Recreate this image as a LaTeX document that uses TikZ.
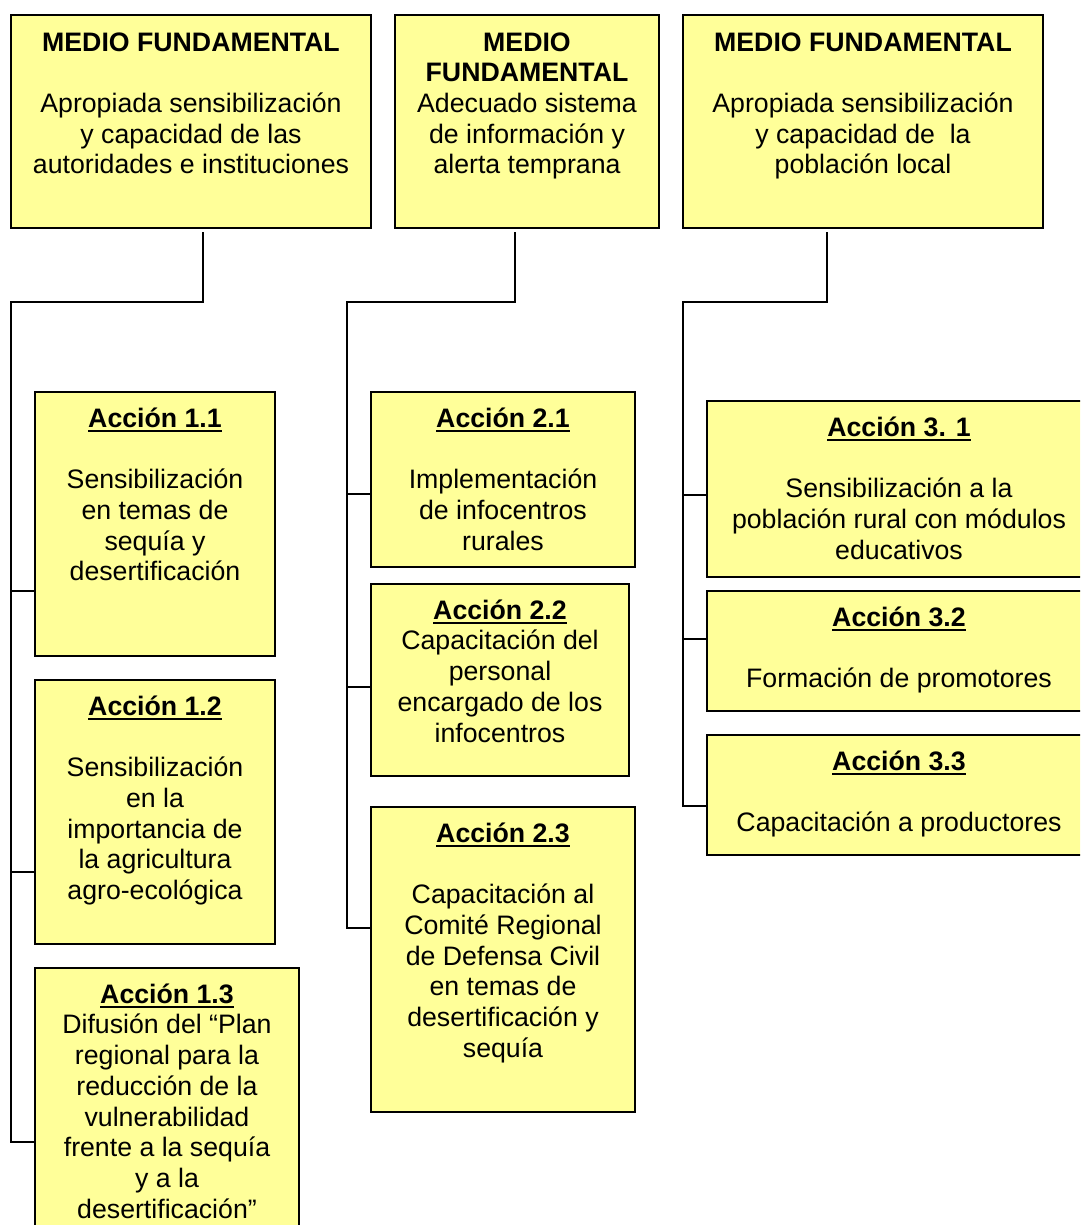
\documentclass[tikz,border=0pt]{standalone}
\usepackage{fontspec}
\setmainfont{Liberation Sans}
\definecolor{boxyellow}{HTML}{FFFF99}
\newsavebox\accbox
\newcommand\acct[1]{\sbox\accbox{\bfseries #1}\rlap{\rule[-4.5pt]{\wd\accbox}{2pt}}\usebox\accbox}
\newcommand\fl{\rule{0pt}{22pt}}
\begin{document}
\begin{tikzpicture}[x=1pt,y=-1pt,
  box/.style={rectangle,draw=black,line width=1.5pt,fill=boxyellow,inner sep=0pt,outer sep=0pt},
  txt/.style={anchor=north,inner sep=0pt,align=center,font=\fontsize{26.7}{30.7}\selectfont},
  link/.style={draw=black,line width=1.5pt}]
\useasboundingbox (0,0) rectangle (1080,1225);
\path[clip] (0,0) rectangle (1080,1225);
\fill[white] (0,0) rectangle (1080,1225);
% top boxes
\node[box,minimum width=360pt,minimum height=213pt] (m1) at (191,121.5) {};
\node[box,minimum width=264pt,minimum height=213pt] (m2) at (527,121.5) {};
\node[box,minimum width=360pt,minimum height=213pt] (m3) at (863,121.5) {};
% action boxes
\node[box,minimum width=240pt,minimum height=264pt] (a11) at (155,524) {};
\node[box,minimum width=240pt,minimum height=264pt] (a12) at (155,812) {};
\node[box,minimum width=264pt,minimum height=262pt] (a13) at (167,1099) {};
\node[box,minimum width=264pt,minimum height=175pt] (a21) at (503,479.5) {};
\node[box,minimum width=258pt,minimum height=192pt] (a22) at (500,680) {};
\node[box,minimum width=264pt,minimum height=305pt] (a23) at (503,959.5) {};
\node[box,minimum width=384pt,minimum height=176pt] (a31) at (899,489) {};
\node[box,minimum width=384pt,minimum height=120pt] (a32) at (899,651) {};
\node[box,minimum width=384pt,minimum height=120pt] (a33) at (899,795) {};
% texts
\node[txt] (tm1) at (191,29) {\fl\textbf{MEDIO FUNDAMENTAL}\\ \mbox{}\\ Apropiada sensibilización\\ y capacidad de las\\ autoridades e instituciones};
\node[txt] (tm2) at (527,29) {\fl\textbf{MEDIO}\\ \textbf{FUNDAMENTAL}\\ Adecuado sistema\\ de información y\\ alerta temprana};
\node[txt] (tm3) at (863,29) {\fl\textbf{MEDIO FUNDAMENTAL}\\ \mbox{}\\ Apropiada sensibilización\\ y capacidad de~ la\\ población local};
\node[txt] (t11) at (155,405) {\fl\acct{Acción 1.1}\\ \mbox{}\\ Sensibilización\\ en temas de\\ sequía y\\ desertificación};
\node[txt] (t12) at (155,693) {\fl\acct{Acción 1.2}\\ \mbox{}\\ Sensibilización\\ en la\\ importancia de\\ la agricultura\\ agro-ecológica};
\node[txt] (t13) at (167,981) {\fl\acct{Acción 1.3}\\ Difusión del “Plan\\ regional para la\\ reducción de la\\ vulnerabilidad\\ frente a la sequía\\ y a la\\ desertificación”};
\node[txt] (t21) at (503,405) {\fl\acct{Acción 2.1}\\ \mbox{}\\ Implementación\\ de infocentros\\ rurales};
\node[txt] (t22) at (500,597) {\fl\acct{Acción 2.2}\\ Capacitación del\\ personal\\ encargado de los\\ infocentros};
\node[txt] (t23) at (503,820) {\fl\acct{Acción 2.3}\\ \mbox{}\\ Capacitación al\\ Comité Regional\\ de Defensa Civil\\ en temas de\\ desertificación y\\ sequía};
\node[txt] (t31) at (899,414) {\fl\acct{Acción 3. 1}\\ \mbox{}\\ Sensibilización a la\\ población rural con módulos\\ educativos};
\node[txt] (t32) at (899,604) {\fl\acct{Acción 3.2}\\ \mbox{}\\ Formación de promotores};
\node[txt] (t33) at (899,748) {\fl\acct{Acción 3.3}\\ \mbox{}\\ Capacitación a productores};
% connector coordinates
\coordinate (j1) at (203,302); \coordinate (c1) at (11,302); \coordinate (e1) at (11,1142);
\coordinate (b11) at (11,591); \coordinate (b12) at (11,872);
\coordinate (j2) at (515,302); \coordinate (c2) at (347,302); \coordinate (e2) at (347,928);
\coordinate (b21) at (347,494); \coordinate (b22) at (347,687);
\coordinate (j3) at (827,302); \coordinate (c3) at (683,302); \coordinate (e3) at (683,806);
\coordinate (b31) at (683,495); \coordinate (b32) at (683,639);
% connectors
\draw[link] ([yshift=-4pt]m1.south -| j1) -- (j1) -- (c1) -- (e1) -- (e1 -| a13.west);
\draw[link] (b11) -- (b11 -| a11.west);
\draw[link] (b12) -- (b12 -| a12.west);
\draw[link] ([yshift=-4pt]m2.south -| j2) -- (j2) -- (c2) -- (e2) -- (e2 -| a23.west);
\draw[link] (b21) -- (b21 -| a21.west);
\draw[link] (b22) -- (b22 -| a22.west);
\draw[link] ([yshift=-4pt]m3.south -| j3) -- (j3) -- (c3) -- (e3) -- (e3 -| a33.west);
\draw[link] (b31) -- (b31 -| a31.west);
\draw[link] (b32) -- (b32 -| a32.west);
\end{tikzpicture}
\end{document}
